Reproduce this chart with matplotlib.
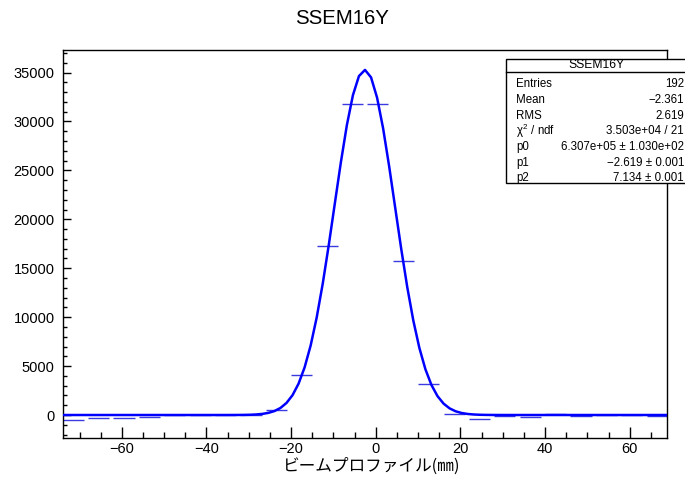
import numpy as np
import matplotlib
matplotlib.use("Agg")
import matplotlib.pyplot as plt
from matplotlib.ticker import MultipleLocator
from matplotlib.patches import Rectangle

# ---- data ----
bin_centers = [-71.5, -65.5, -59.5, -53.5, -47.5, -41.5, -35.5, -29.5,
               -23.5, -17.5, -11.5, -5.5, 0.5, 6.5, 12.5, 18.5,
               24.5, 30.5, 36.5, 42.5, 48.5, 54.5, 60.5, 66.5]
bin_values = [-510, -275, -340, -205, 20, -30, 10, 40,
              560, 4090, 17240, 31780, 31780, 15740, 3140, 100,
              -440, -90, -190, 80, -100, 0, 10, -110]
bin_half_width = 2.5

fit_p0 = 6.307e5
fit_p1 = -2.619
fit_p2 = 7.134

title = "SSEM16Y"
xlabel = "ビームプロファイル(\u339c)"
stat_title = "SSEM16Y"
stat_names = ["Entries", "Mean", "RMS", "$\\chi^{2}$ / ndf", "p0", "p1", "p2"]
stat_values = ["192", "\u22122.361", "2.619", "3.503e+04 / 21",
               "6.307e+05 \u00b1 1.030e+02", "\u22122.619 \u00b1 0.001",
               "7.134 \u00b1 0.001"]

xlim = (-73.9, 68.8)
ylim = (-2350, 37300)

# ---- figure ----
W, H = 685, 480
fig = plt.figure(figsize=(W / 100, H / 100), dpi=100)
plt.rcParams['font.family'] = ['Liberation Sans', 'DejaVu Sans']
plt.rcParams['mathtext.fontset'] = 'custom'
plt.rcParams['mathtext.rm'] = 'Liberation Sans'
plt.rcParams['mathtext.it'] = 'Liberation Sans'

L, R, T, B = 63, 667, 50, 438
ax = fig.add_axes([L / W, 1 - B / H, (R - L) / W, (B - T) / H])

ax.errorbar(bin_centers, bin_values, xerr=bin_half_width, fmt='none',
            ecolor='#3a3ae0', elinewidth=1.0, capsize=0, zorder=2)

xf = np.linspace(xlim[0], xlim[1], 101)
yf = fit_p0 / (np.sqrt(2 * np.pi) * fit_p2) * np.exp(-0.5 * ((xf - fit_p1) / fit_p2) ** 2)
ax.plot(xf, yf, color='#0000ff', lw=1.8, zorder=3)

ax.set_xlim(*xlim)
ax.set_ylim(*ylim)
ax.xaxis.set_major_locator(MultipleLocator(20))
ax.xaxis.set_minor_locator(MultipleLocator(5))
ax.yaxis.set_major_locator(MultipleLocator(5000))
ax.yaxis.set_minor_locator(MultipleLocator(1000))
ax.tick_params(axis='x', which='major', direction='in', length=8, width=1,
               labelsize=10.5, pad=3, top=False)
ax.tick_params(axis='x', which='minor', direction='in', length=4.3, width=1, top=False)
ax.tick_params(axis='y', which='major', direction='in', length=5.5, width=1,
               labelsize=10.5, pad=6, right=False)
ax.tick_params(axis='y', which='minor', direction='in', length=3, width=1, right=False)
for s in ax.spines.values():
    s.set_color('black')
    s.set_linewidth(1)

ax.set_xlabel(xlabel, fontsize=12, family=['Noto Sans CJK JP', 'DejaVu Sans'])
ax.xaxis.set_label_coords((372 - L) / (R - L), -(466 - B) / (B - T))
ax.xaxis.label.set_va('center')

fig.text(342 / W, 1 - 18 / H, title, ha='center', va='center', fontsize=14.7)

# ---- stats box (pixel overlay) ----
ov = fig.add_axes([0, 0, 1, 1], facecolor='none')
ov.set_xlim(0, W)
ov.set_ylim(H, 0)
ov.axis('off')
bx0, by0, by1 = 506, 59, 183
ov.add_patch(Rectangle((bx0, by0), 200, by1 - by0, facecolor='white',
                       edgecolor='black', lw=1, zorder=5))
ov.plot([bx0, 700], [71.7, 71.7], color='black', lw=1, zorder=6)
ov.text(596, 65.3, stat_title, ha='center', va='center',
        fontsize=8.7, zorder=7)
for i, (n, v) in enumerate(zip(stat_names, stat_values)):
    yy = 84.3 + i * 15.67
    ov.text(516.5, yy, n, ha='left', va='center', fontsize=8.3, zorder=7)
    ov.text(684, yy, v, ha='right', va='center', fontsize=8.3, zorder=7)

fig.savefig("out.png", dpi=100)
